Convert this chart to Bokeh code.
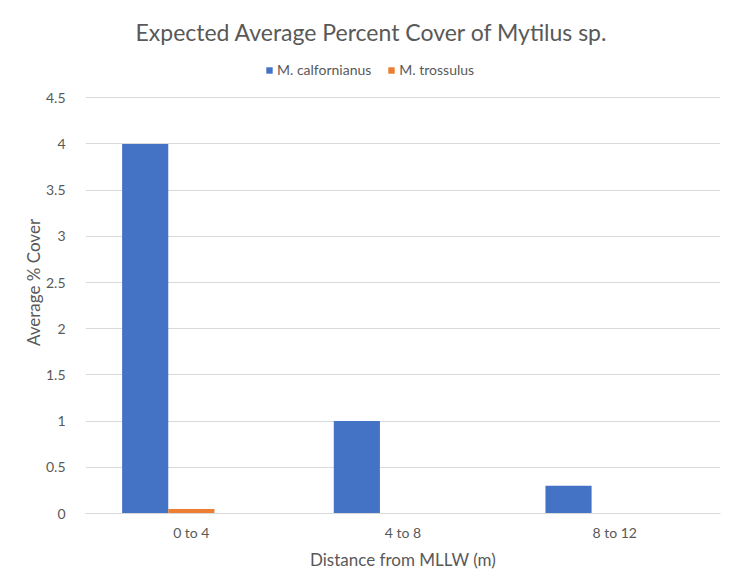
from bokeh.plotting import figure
from bokeh.models import FactorRange, Range1d, FixedTicker, Legend, LegendItem, ColumnDataSource
from bokeh.transform import dodge
from bokeh.embed import file_html
from bokeh.resources import INLINE

# ---- data ----
categories = ["0 to 4", "4 to 8", "8 to 12"]
m_californianus = [4.0, 1.0, 0.3]
m_trossulus = [0.05, 0.0, 0.0]
series_names = ["M. calfornianus", "M. trossulus"]
y_ticks = [0, 0.5, 1, 1.5, 2, 2.5, 3, 3.5, 4, 4.5]
y_tick_labels = ["0", "0.5", "1", "1.5", "2", "2.5", "3", "3.5", "4", "4.5"]

TEXT = "#595959"
GRID = "#d9d9d9"
BLUE = "#4472C4"
ORANGE = "#ED7D31"
FONT = "Lato"

src = ColumnDataSource(dict(cat=categories, cal=m_californianus, tro=m_trossulus))

p = figure(width=721, height=574,
           x_range=FactorRange(*categories, range_padding=0),
           y_range=Range1d(0, 5.0),
           output_backend="svg", toolbar_location=None,
           min_border_left=85, min_border_right=1,
           min_border_top=51, min_border_bottom=61)
p.outline_line_color = None

bw = 0.218
r1 = p.vbar(x=dodge("cat", -bw, range=p.x_range), top="cal", width=bw, source=src,
            fill_color=BLUE, line_color=None)
r2 = p.vbar(x=dodge("cat", 0.0, range=p.x_range), top="tro", width=bw, source=src,
            fill_color=ORANGE, line_color=None)

# title
p.title.text = "Expected Average Percent Cover of Mytilus sp."
p.title.text_font = FONT
p.title.text_font_size = "23px"
p.title.text_font_style = "normal"
p.title.text_color = TEXT
p.title.align = "left"
p.title.offset = 50
p.title.standoff = 11

# grid
p.xgrid.grid_line_color = None
p.ygrid.ticker = FixedTicker(ticks=y_ticks)
p.ygrid.grid_line_color = GRID
p.ygrid.grid_line_width = 1

# y axis
p.yaxis.ticker = FixedTicker(ticks=y_ticks)
p.yaxis.major_label_overrides = {t: l for t, l in zip(y_ticks, y_tick_labels)}
p.yaxis.axis_line_color = None
p.yaxis.major_tick_line_color = None
p.yaxis.minor_tick_line_color = None
p.yaxis.major_label_standoff = 14
p.yaxis.axis_label = "Average % Cover"
p.yaxis.axis_label_standoff = -1
p.yaxis.axis_label_text_font = FONT
p.yaxis.axis_label_text_font_size = "17px"
p.yaxis.axis_label_text_font_style = "normal"
p.yaxis.axis_label_text_color = TEXT
p.yaxis.major_label_text_font = FONT
p.yaxis.major_label_text_font_size = "14px"
p.yaxis.major_label_text_color = TEXT

# x axis
p.xaxis.axis_line_color = GRID
p.xaxis.major_tick_line_color = None
p.xaxis.minor_tick_line_color = None
p.xaxis.major_label_standoff = 4
p.xaxis.axis_label = "Distance from MLLW (m)"
p.xaxis.axis_label_standoff = 5
p.xaxis.axis_label_text_font = FONT
p.xaxis.axis_label_text_font_size = "17px"
p.xaxis.axis_label_text_font_style = "normal"
p.xaxis.axis_label_text_color = TEXT
p.xaxis.major_label_text_font = FONT
p.xaxis.major_label_text_font_size = "14px"
p.xaxis.major_label_text_color = TEXT

legend = Legend(items=[LegendItem(label=series_names[0], renderers=[r1]),
                       LegendItem(label=series_names[1], renderers=[r2])],
                location=(180, 435), orientation="horizontal",
                glyph_width=8, glyph_height=8, label_standoff=4, spacing=16,
                padding=0, margin=0, label_height=16,
                label_text_font=FONT, label_text_font_size="14px", label_text_color=TEXT,
                background_fill_alpha=0, border_line_color=None)
p.add_layout(legend)

open("out.html", "w").write(file_html(p, INLINE))
